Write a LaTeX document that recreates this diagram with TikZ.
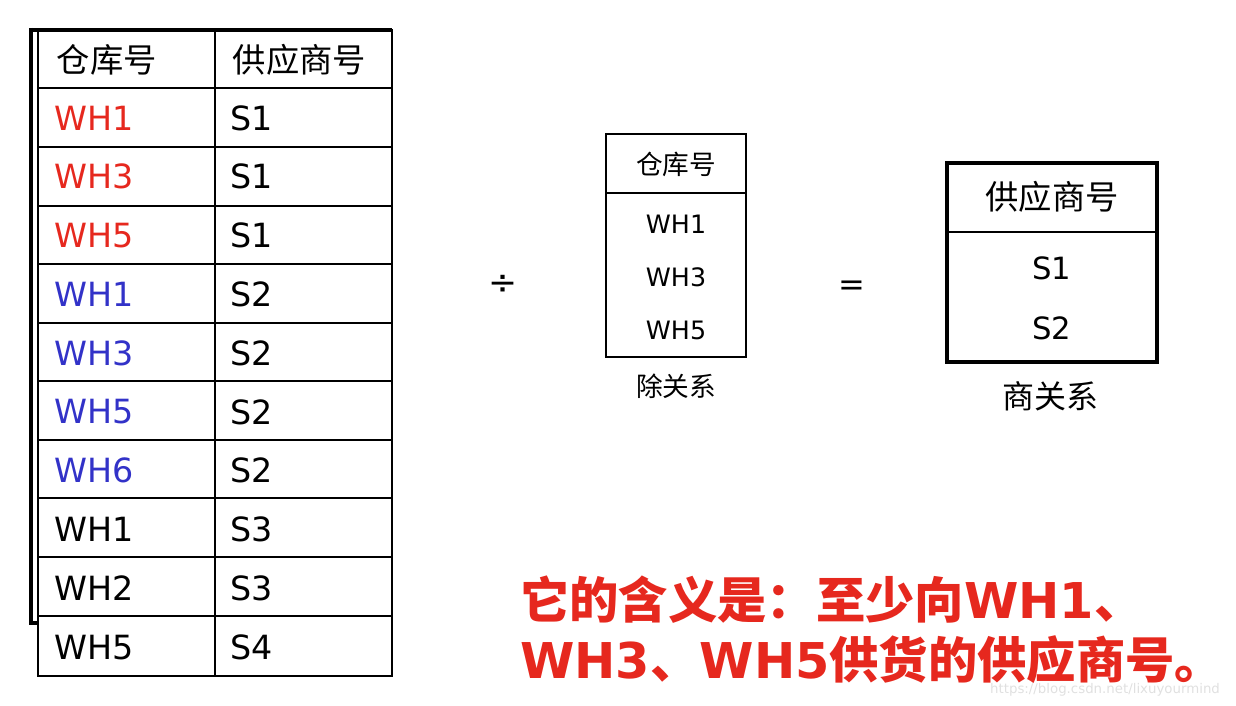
\documentclass[tikz,border=0pt]{standalone}
\usepackage{fontspec}
\setmainfont{DejaVu Sans}
\newfontfamily\cjk{Noto Sans CJK SC}
\definecolor{myred}{RGB}{230,40,30}
\definecolor{myblue}{RGB}{50,50,200}
\begin{document}
\begin{tikzpicture}[x=0.75pt,y=-0.75pt,
  cell/.style={anchor=west,font=\fontsize{25}{25}\selectfont},
  hdr/.style={anchor=west,font=\cjk\fontsize{25}{25}\selectfont},
  small/.style={font=\fontsize{19}{19}\selectfont},
  redtxt/.style={anchor=west,inner sep=0pt,text=myred,font=\bfseries\fontsize{37}{37}\selectfont}]
\useasboundingbox (0,0) rectangle (1236,706);
% outer frame
\draw[line width=3pt] (31,28) -- (31,623) -- (38,623);
\draw[line width=3pt] (29,30) -- (392,30);
\draw[line width=2pt] (38,30) rectangle (392,676);
\draw[line width=1.5pt] (215,30) -- (215,676);
\foreach \y in {88,147,206,264,323,381,440,498,557,616}
  \draw[line width=1.5pt] (38,\y) -- (392,\y);
\node[hdr] (h1) at (52,60) {仓库号};
\node[hdr] (h2) at (228,60) {供应商号};
\foreach \w/\s/\c [count=\i] in {WH1/S1/myred,WH3/S1/myred,WH5/S1/myred,WH1/S2/myblue,WH3/S2/myblue,WH5/S2/myblue,WH6/S2/myblue,WH1/S3/black,WH2/S3/black,WH5/S4/black}{
  \node[cell,text=\c] (w\i) at (50,{88+58.8*(\i-1)+30}) {\w};
  \node[cell] (s\i) at (226,{88+58.8*(\i-1)+30}) {\s};
}
\node[font=\fontsize{26}{26}\selectfont] (div) at (503,285) {÷};
% divisor box
\draw[line width=2.2pt] (606,134) rectangle (746,357);
\draw[line width=2pt] (606,193) -- (746,193);
\node[font=\cjk\fontsize{20}{20}\selectfont] (dh) at (676,164) {仓库号};
\node[small] (d1) at (676,224) {WH1};
\node[small] (d2) at (676,277) {WH3};
\node[small] (d3) at (676,330) {WH5};
\node[font=\cjk\fontsize{20}{20}\selectfont] (dl) at (676,386) {除关系};
\node[font=\fontsize{24}{24}\selectfont] (eq) at (852,288) {=};
% quotient box
\draw[line width=2.5pt] (947,163) rectangle (1157,362);
\draw[line width=1.5pt] (947,232) -- (1157,232);
\node[font=\cjk\fontsize{25}{25}\selectfont] (qh) at (1052,197) {供应商号};
\node[font=\fontsize{23}{23}\selectfont] (q1) at (1052,268) {S1};
\node[font=\fontsize{23}{23}\selectfont] (q2) at (1052,328) {S2};
\node[font=\cjk\fontsize{24}{24}\selectfont] (ql) at (1050,396) {商关系};
% red text
\node[redtxt] (r1) at (520,600) {{\cjk\bfseries 它的含义是：至少向}WH1{\cjk\bfseries 、}};
\node[redtxt] (r2) at (520,660) {WH3{\cjk\bfseries 、}WH5{\cjk\bfseries 供货的供应商号。}};
\node[text=black!12,font=\fontsize{10}{10}\selectfont] (wm) at (1105,690) {https://blog.csdn.net/lixuyourmind};
\end{tikzpicture}
\end{document}
